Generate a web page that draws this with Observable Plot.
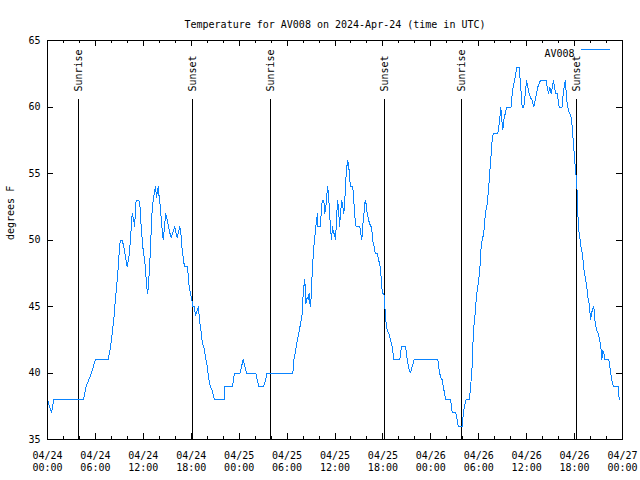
<!DOCTYPE html>
<html><head><meta charset="utf-8">
<script src="https://cdn.jsdelivr.net/npm/d3@7"></script>
<script src="https://cdn.jsdelivr.net/npm/@observablehq/plot@0.6"></script>
<style>html,body{margin:0;padding:0;background:#fff;}</style>
</head><body><div id="chart"></div>
<script>
const title = "Temperature for AV008 on 2024-Apr-24 (time in UTC)";
const yLabel = "degrees F";
const seriesName = "AV008";
const days = ["2024-04-24", "2024-04-25", "2024-04-26"];
// [hour of day (UTC), temperature °F]
const readings24 = [[0,38],[0.5,37],[0.8,38],[4.5,38],[4.85,39],[5.5,40],[6.0,41],[7.6,41],[7.9,42],[8.3,44],[8.5,45.5],[8.65,46.5],[8.8,47.5],[8.93,48.5],[9.0,49.5],[9.15,50],[9.35,50],[9.55,49.5],[9.77,48.7],[9.98,48],[10.27,49],[10.4,50.3],[10.5,51],[10.6,52],[10.8,51.5],[10.9,51],[11.1,53],[11.43,53],[11.56,52.7],[11.73,51],[11.93,49.5],[12.15,48.5],[12.3,47.7],[12.4,46.5],[12.56,46],[12.68,47],[12.8,48.2],[12.9,49.5],[13.1,52.2],[13.24,53],[13.4,53.6],[13.52,54],[13.65,53.2],[13.86,54],[14.02,53],[14.15,52.5],[14.24,51.5],[14.4,50.5],[14.5,50],[14.65,51],[14.8,52],[15.0,51.5],[15.15,51],[15.28,50.6],[15.5,50.2],[15.65,50.5],[15.94,51],[16.1,50.5],[16.24,50.2],[16.57,51],[16.7,50.5],[16.87,49.2],[17.03,48.5],[17.15,48],[17.5,48],[17.6,47.5],[17.74,46.5],[17.9,46],[18.07,45.5],[18.2,45],[18.4,45],[18.53,44.3],[18.75,44.7],[18.9,45],[19.03,44],[19.25,43],[19.4,42.2],[19.57,42],[19.78,41.2],[20.0,40.5],[20.2,39.5],[20.4,39],[20.62,38.7],[20.9,38],[22.2,38],[22.22,39],[23.17,39],[23.33,39.7],[23.5,40]];
const readings25 = [[0.1,40],[0.3,40.5],[0.5,41],[0.7,40.5],[0.92,40],[2.08,40],[2.26,39.5],[2.46,39],[3.08,39],[3.3,39.5],[3.5,40],[6.72,40],[6.84,41],[7.05,41.6],[7.27,42.4],[7.47,43],[7.68,43.7],[7.9,44.5],[7.97,45.5],[8.1,46.5],[8.22,47],[8.35,45.2],[8.52,45.7],[8.65,45.5],[8.77,46],[8.9,45],[9.02,45.7],[9.1,47],[9.22,48.3],[9.35,49.5],[9.52,50.5],[9.68,51.5],[9.81,52],[9.85,51],[10.18,51],[10.27,52],[10.4,53],[10.6,53],[10.72,52],[10.85,52.5],[10.94,53],[11.06,54],[11.19,53.5],[11.31,52],[11.44,51],[11.56,50],[11.69,51],[11.81,50.5],[11.94,50.5],[12.06,50],[12.19,51.5],[12.31,53],[12.44,52.5],[12.56,51],[12.69,52],[12.85,53],[12.98,52.5],[13.1,52],[13.23,53],[13.35,54.5],[13.48,55.5],[13.6,56],[13.73,55.5],[13.85,54.5],[13.98,54],[14.15,54],[14.28,53.7],[14.4,52.5],[14.53,51.5],[14.65,51],[15.1,51],[15.23,50.5],[15.36,50],[15.53,51.5],[15.66,52.2],[15.78,53],[15.9,52.7],[16.03,52],[16.2,51.5],[16.36,51.2],[16.53,51],[16.66,50.5],[16.78,49.7],[16.9,49.5],[17.03,49],[17.28,49],[17.45,48.5],[17.61,48.2],[17.74,47.5],[17.86,46.5],[17.95,46],[18.11,46],[18.2,45.5],[18.29,44.5],[18.41,43.7],[18.54,43.2],[18.74,43],[18.95,42.5],[19.16,42],[19.36,41],[20.11,41],[20.33,42],[20.83,42],[21.04,41],[21.29,40.2],[21.45,40],[21.67,40.5],[21.92,41]];
const readings26 = [[0.87,41],[1.05,40.2],[1.21,39.7],[1.42,39.5],[1.55,39],[1.71,38.5],[1.87,38],[2.46,38],[2.59,37.5],[2.68,37],[3.13,37],[3.3,36.5],[3.43,36],[3.93,36],[4.0,36.5],[4.13,37.2],[4.3,37.7],[4.43,38],[4.84,38],[4.97,39],[5.09,39.7],[5.22,41],[5.31,43],[5.51,44.2],[5.68,45.5],[5.8,46.2],[5.93,46.7],[6.13,47.7],[6.26,49.2],[6.43,50],[6.63,50.5],[6.76,51.5],[6.88,52.2],[7.06,52.7],[7.18,53.5],[7.31,54.5],[7.43,55.5],[7.56,56.5],[7.63,57.2],[7.81,58],[8.39,58],[8.51,58.5],[8.64,59.2],[8.76,60],[8.89,59],[9.01,58.3],[9.14,59],[9.31,59.5],[9.48,60],[10.06,60],[10.19,61],[10.31,61.5],[10.48,62],[10.64,62.5],[10.77,63],[11.07,63],[11.19,62],[11.32,61],[11.44,60],[11.64,60],[11.82,61],[11.98,62],[12.14,61.5],[12.32,61],[12.48,60.7],[12.69,60.5],[12.89,60],[13.07,60.5],[13.23,61],[13.39,61.5],[13.73,62],[14.45,62],[14.57,61.5],[14.74,61],[14.9,61.5],[15.07,61],[15.27,61.7],[15.36,62],[15.61,61],[15.82,61],[15.95,60.5],[16.07,60],[16.45,60],[16.57,61],[16.74,61.7],[16.86,62],[16.95,61],[17.08,60.2],[17.24,59.7],[17.4,59.5],[17.58,59.2],[17.7,58.5],[17.83,57.5],[17.95,56.5],[18.08,55.5],[18.24,54.5],[18.33,53.5],[18.4,52],[18.53,50.7],[18.7,50],[18.87,49.2],[18.99,49],[19.12,48],[19.33,47.2],[19.53,46.5],[19.66,45.7],[19.83,45.2],[20.0,44],[20.12,44.5],[20.28,44.8],[20.41,45],[20.53,44],[20.75,43.2],[20.96,43],[21.12,42.5],[21.28,42],[21.41,41],[21.53,41.7],[21.66,41.5],[21.79,41],[22.29,41],[22.41,40.5],[22.59,39.7],[22.75,39.2],[22.91,39],[23.46,39],[23.59,38]];
const eventLabels = ["Sunrise", "Sunset", "Sunrise", "Sunset", "Sunrise", "Sunset"];
const eventTimes = ["2024-04-24T03:55Z", "2024-04-24T18:12Z", "2024-04-25T03:57Z", "2024-04-25T18:14Z", "2024-04-26T03:53Z", "2024-04-26T18:16Z"];
const yTicks = [35, 40, 45, 50, 55, 60, 65];
const xStart = new Date("2024-04-24T00:00Z");
const xEnd = new Date("2024-04-27T00:00Z");

const data = [readings24, readings25, readings26].flatMap((r, i) =>
  r.map(([h, t]) => ({time: new Date(Date.parse(days[i] + "T00:00Z") + h * 3600000), temp: t})));
const events = eventTimes.map((t, i) => ({time: new Date(t), label: eventLabels[i]}));
const majorTicks = d3.utcHour.every(6).range(xStart, new Date(+xEnd + 1));
const minorTicks = d3.utcHour.every(2).range(xStart, new Date(+xEnd + 1)).filter(d => d.getUTCHours() % 6 !== 0);

const W = 640, H = 480, mL = 47, mR = 18, mT = 40, mB = 41;
const pw = W - mL - mR, ph = H - mT - mB;

const svg = Plot.plot({
  width: W, height: H,
  marginLeft: mL, marginRight: mR, marginTop: mT, marginBottom: mB,
  style: {fontFamily: "'DejaVu Sans Mono', monospace", fontSize: "10px", background: "#fff", color: "#000"},
  x: {type: "utc", domain: [xStart, xEnd]},
  y: {domain: [35, 65]},
  marks: [
    Plot.tickX(majorTicks, {x: d => d, insetTop: ph - 6, stroke: "#000"}),
    Plot.tickX(majorTicks, {x: d => d, insetBottom: ph - 6, stroke: "#000"}),
    Plot.tickX(minorTicks, {x: d => d, insetTop: ph - 3, stroke: "#000"}),
    Plot.tickX(minorTicks, {x: d => d, insetBottom: ph - 3, stroke: "#000"}),
    Plot.tickY(yTicks, {y: d => d, insetRight: pw - 6, stroke: "#000"}),
    Plot.tickY(yTicks, {y: d => d, insetLeft: pw - 6, stroke: "#000"}),
    Plot.axisX(majorTicks, {tickSize: 0, tickPadding: 11, tickFormat: d3.utcFormat("%m/%d\n%H:%M"), lineHeight: 1.2, label: null}),
    Plot.axisY(yTicks, {tickSize: 0, tickPadding: 7, label: null}),
    Plot.ruleX(events, {x: "time", insetTop: 59, stroke: "#000"}),
    Plot.text(events, {x: "time", text: "label", frameAnchor: "top", rotate: -90, textAnchor: "start", dy: 51, dx: -4}),
    Plot.line(data, {x: "time", y: "temp", stroke: "#0a84ff", strokeWidth: 1}),
    Plot.frame({stroke: "#000"}),
    Plot.text([title], {frameAnchor: "top", dy: -20}),
    Plot.text([yLabel], {frameAnchor: "left", rotate: -90, dx: -37}),
    Plot.text([seriesName], {frameAnchor: "top-right", textAnchor: "end", dx: -48, dy: 9})
  ]
});
svg.setAttribute("shape-rendering", "crispEdges");
d3.select(svg).append("line")
  .attr("x1", 581).attr("x2", 610).attr("y1", 49.5).attr("y2", 49.5)
  .attr("stroke", "#0a84ff").attr("stroke-width", 1);
document.getElementById("chart").append(svg);
</script>
</body></html>
